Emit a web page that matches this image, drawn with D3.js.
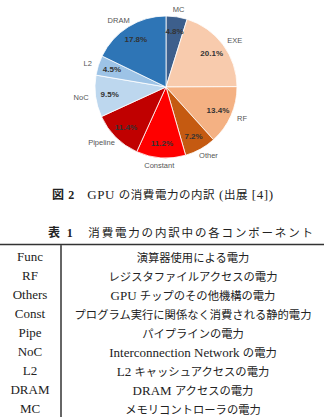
<!DOCTYPE html>
<html>
<head>
<meta charset="utf-8">
<script src="https://cdn.jsdelivr.net/npm/d3@7"></script>
<style>
  body { margin: 0; background: #fff; }
  svg { display: block; }
</style>
</head>
<body>
<svg id="chart" width="324" height="417"></svg>
<script>
// pie data, clockwise from 12 o'clock
const parts = ["MC", "EXE", "RF", "Other", "Constant", "Pipeline", "NoC", "L2", "DRAM"];
const shares = [4.8, 20.1, 13.4, 7.2, 11.2, 11.4, 9.5, 4.5, 17.8];
const partColors = ["#3d5f8c", "#f8cbad", "#f4b183", "#c55a11", "#ff0000", "#c00000", "#bdd7ee", "#9dc3e6", "#2e75b6"];

// table rows
const abbrevs = ["Func", "RF", "Others", "Const", "Pipe", "NoC", "L2", "DRAM", "MC"];
const descs = [
    "演算器使用による電力",
    "レジスタファイルアクセスの電力",
    "GPU チップのその他機構の電力",
    "プログラム実行に関係なく消費される静的電力",
    "パイプラインの電力",
    "Interconnection Network の電力",
    "L2 キャッシュアクセスの電力",
    "DRAM アクセスの電力",
    "メモリコントローラの電力"
];

const figCaption = ["図 2", "GPU の消費電力の内訳 (出展 [4])"];
const tabCaption = ["表 1", "消費電力の内訳中の各コンポーネント"];

const serif = "'Liberation Serif', 'Noto Sans CJK JP', serif";
const sans = "'Liberation Sans', 'Noto Sans CJK JP', sans-serif";

const svg = d3.select('#chart');

// split a string into latin / cjk runs so each gets its own size
function addRuns(sel, str, latinSize, cjkSize) {
    str.split(/([\x00-\x7F]+)/).filter(s => s.length).forEach(s => {
        const latin = /^[\x00-\x7F]+$/.test(s);
        sel.append('tspan')
            .style('font-size', (latin ? latinSize : cjkSize) + 'px')
            .text(s);
    });
}

// Pie
const cx = 166, cy = 87, r = 71;
const pie = d3.pie().sort(null).value(d => d.v);
const data = parts.map((p, i) => ({ name: p, v: shares[i], color: partColors[i] }));
const arcs = pie(data);

const arc = d3.arc().innerRadius(0).outerRadius(r);
const pctArc = d3.arc().innerRadius(r * 0.8).outerRadius(r * 0.8);

const g = svg.append('g').attr('transform', `translate(${cx}, ${cy})`);

g.selectAll('path')
    .data(arcs)
    .enter()
    .append('path')
    .attr('d', arc)
    .attr('fill', d => d.data.color)
    .attr('stroke', '#fff')
    .attr('stroke-width', 0.8);

g.selectAll('.pct')
    .data(arcs)
    .enter()
    .append('text')
    .attr('class', 'pct')
    .attr('transform', d => `translate(${pctArc.centroid(d)})`)
    .attr('dy', '0.35em')
    .style('text-anchor', 'middle')
    .style('font-family', sans)
    .style('font-size', '8px')
    .style('font-weight', 'bold')
    .style('fill', '#333')
    .text(d => d.data.v.toFixed(1) + '%');

// outer names: just outside the rim, pushed sideways by half their width
g.selectAll('.lab')
    .data(arcs)
    .enter()
    .append('text')
    .attr('class', 'lab')
    .attr('dy', '0.35em')
    .style('text-anchor', 'middle')
    .style('font-family', sans)
    .style('font-size', '7.5px')
    .style('fill', '#555')
    .text(d => d.data.name)
    .attr('transform', function (d) {
        const a = (d.startAngle + d.endAngle) / 2;
        const w = this.getComputedTextLength();
        const x = Math.sin(a) * r * 1.1 + Math.sin(a) * w / 2;
        const y = -Math.cos(a) * r * 1.1;
        return `translate(${x}, ${y})`;
    });

// Captions
function caption(parts, x, y, len) {
    const t = svg.append('text')
        .attr('x', x)
        .attr('y', y)
        .attr('textLength', len)
        .attr('lengthAdjust', 'spacing')
        .style('font-family', serif)
        .style('fill', '#222');
    t.append('tspan').style('font-weight', 'bold').style('font-size', '12px').text(parts[0] + '\u2003');
    addRuns(t, parts[1], 13, 11.5);
}
caption(figCaption, 52, 199, 221);
caption(tabCaption, 48, 237, 265);

// Table
const rowY = d3.scalePoint().domain(abbrevs).range([256, 408]);

svg.append('line')
    .attr('x1', 0).attr('x2', 324)
    .attr('y1', 244.5).attr('y2', 244.5)
    .attr('stroke', '#333')
    .attr('stroke-width', 1.4);

svg.append('line')
    .attr('x1', 61).attr('x2', 61)
    .attr('y1', 245).attr('y2', 417)
    .attr('stroke', '#666')
    .attr('stroke-width', 2);

svg.selectAll('.abbr')
    .data(abbrevs)
    .enter()
    .append('text')
    .attr('class', 'abbr')
    .attr('x', 30)
    .attr('y', d => rowY(d))
    .attr('dy', '0.35em')
    .style('text-anchor', 'middle')
    .style('font-family', serif)
    .style('font-size', '13px')
    .style('fill', '#222')
    .text(d => d);

svg.selectAll('.desc')
    .data(descs)
    .enter()
    .append('text')
    .attr('class', 'desc')
    .attr('x', 193)
    .attr('y', (d, i) => rowY(abbrevs[i]))
    .attr('dy', '0.35em')
    .style('text-anchor', 'middle')
    .style('font-family', serif)
    .style('fill', '#222')
    .each(function (d) { addRuns(d3.select(this), d, 13, 11.3); });
</script>
</body>
</html>
